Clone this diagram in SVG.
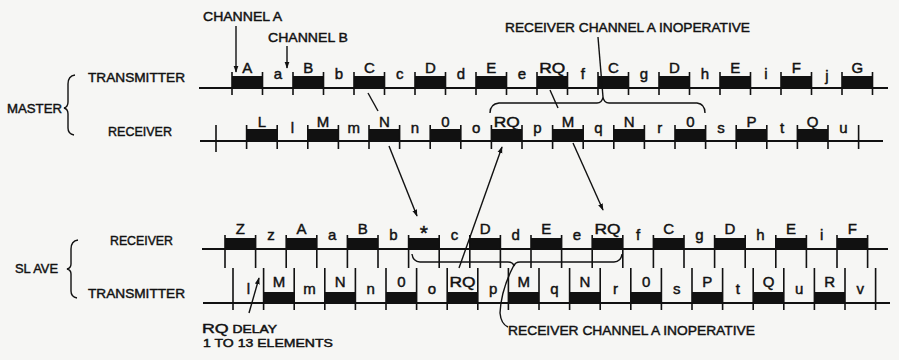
<svg xmlns="http://www.w3.org/2000/svg" width="899" height="360" viewBox="0 0 899 360">
<style>
text{font-family:"Liberation Sans",Arial,sans-serif;fill:#111;stroke:#111;stroke-width:0.45}
.lbl{font-size:13.5px}
.cap{font-size:15px;text-anchor:middle}
.low{font-size:15px;text-anchor:middle}
.base{stroke:#111;stroke-width:2;fill:none}
.tick{stroke:#111;stroke-width:1.6;fill:none}
.blk{fill:#111}
.ln{stroke:#111;stroke-width:1.4;fill:none}
</style>
<defs>
<marker id="ah" viewBox="0 0 10 10" refX="9" refY="5" markerWidth="7" markerHeight="7" orient="auto" markerUnits="userSpaceOnUse">
<path d="M0 1.5L10 5L0 8.5Z" fill="#111"/>
</marker>
</defs>
<rect width="899" height="360" fill="#f6f6f4"/>

<g id="labels">
<text class="lbl" x="7" y="113" textLength="55" lengthAdjust="spacingAndGlyphs">MASTER</text>
<text class="lbl" x="88" y="82" textLength="97" lengthAdjust="spacingAndGlyphs">TRANSMITTER</text>
<text class="lbl" x="108" y="136" textLength="64" lengthAdjust="spacingAndGlyphs">RECEIVER</text>
<text class="lbl" x="15" y="273" textLength="43" lengthAdjust="spacingAndGlyphs">SL AVE</text>
<text class="lbl" x="110" y="245" textLength="63" lengthAdjust="spacingAndGlyphs">RECEIVER</text>
<text class="lbl" x="88" y="298" textLength="97" lengthAdjust="spacingAndGlyphs">TRANSMITTER</text>
<path class="ln" d="M75 75Q68 76 68 84V102Q68 107 64 108Q68 109 68 114V128Q68 134 74 135"/>
<path class="ln" d="M78 240Q71 241 71 249V264Q71 268 67 269Q71 270 71 274V291Q71 297 77 298"/>
<text class="lbl" x="203" y="21" textLength="79" lengthAdjust="spacingAndGlyphs">CHANNEL A</text>
<text class="lbl" x="268" y="42" textLength="80" lengthAdjust="spacingAndGlyphs">CHANNEL B</text>
<text class="lbl" x="505" y="32" textLength="245" lengthAdjust="spacingAndGlyphs">RECEIVER CHANNEL A INOPERATIVE</text>
<text class="lbl" x="508" y="335" textLength="247" lengthAdjust="spacingAndGlyphs">RECEIVER CHANNEL A INOPERATIVE</text>
<text x="202" y="333" textLength="75" lengthAdjust="spacingAndGlyphs"><tspan font-size="13.5">RQ</tspan><tspan font-size="10.5"> DELAY</tspan></text>
<text x="203" y="347" font-size="11.5" textLength="130" lengthAdjust="spacingAndGlyphs">1 TO 13 ELEMENTS</text>
</g>

<g id="master-transmitter">
<path class="base" d="M199 88H888"/>
<g class="blk">
<rect x="232" y="76" width="30.5" height="12"/><rect x="293" y="76" width="30.5" height="12"/><rect x="354" y="76" width="30.5" height="12"/><rect x="415" y="76" width="30.5" height="12"/><rect x="476" y="76" width="30.5" height="12"/><rect x="537" y="76" width="30.5" height="12"/><rect x="598" y="76" width="30.5" height="12"/><rect x="659" y="76" width="30.5" height="12"/><rect x="720" y="76" width="30.5" height="12"/><rect x="781" y="76" width="30.5" height="12"/><rect x="842" y="76" width="30.5" height="12"/>
</g>
<path class="tick" d="M232 72V95M262.5 72V95M293 72V95M323.5 72V95M354 72V95M384.5 72V95M415 72V95M445.5 72V95M476 72V95M506.5 72V95M537 72V95M567.5 72V95M598 72V95M628.5 72V95M659 72V95M689.5 72V95M720 72V95M750.5 72V95M781 72V95M811.5 72V95M842 72V95M872.5 72V95"/>
<g class="cap">
<text x="247.3" y="73">A</text><text x="308.3" y="73">B</text><text x="369.3" y="73">C</text><text x="430.3" y="73">D</text><text x="491.3" y="73">E</text><text x="552.3" y="73" textLength="26" lengthAdjust="spacingAndGlyphs">RQ</text><text x="613.3" y="73">C</text><text x="674.3" y="73">D</text><text x="735.3" y="73">E</text><text x="796.3" y="73">F</text><text x="857.3" y="73">G</text>
</g>
<g class="low">
<text x="277.8" y="79">a</text><text x="338.8" y="79">b</text><text x="399.8" y="79">c</text><text x="460.8" y="79">d</text><text x="521.8" y="79">e</text><text x="582.8" y="79">f</text><text x="643.8" y="79">g</text><text x="704.8" y="79">h</text><text x="765.8" y="79">i</text><text x="826.8" y="81">j</text>
</g>
</g>

<g id="master-receiver">
<path class="base" d="M200 141H883"/>
<g class="blk">
<rect x="246.6" y="129" width="30.6" height="12"/><rect x="307.8" y="129" width="30.6" height="12"/><rect x="369" y="129" width="30.6" height="12"/><rect x="430.2" y="129" width="30.6" height="12"/><rect x="491.4" y="129" width="30.6" height="12"/><rect x="552.6" y="129" width="30.6" height="12"/><rect x="613.8" y="129" width="30.6" height="12"/><rect x="675" y="129" width="30.6" height="12"/><rect x="736.2" y="129" width="30.6" height="12"/><rect x="797.4" y="129" width="30.6" height="12"/>
</g>
<path class="tick" d="M216 125V152M246.6 125V149M277.2 125V149M307.8 125V149M338.4 125V149M369 125V149M399.6 125V149M430.2 125V149M460.8 125V149M491.4 125V149M522 125V149M552.6 125V149M583.2 125V149M613.8 125V149M644.4 125V149M675 125V149M705.6 125V149M736.2 125V149M766.8 125V149M797.4 125V149M828 125V149M858.6 125V149"/>
<g class="cap">
<text x="261.9" y="127">L</text><text x="323.1" y="127">M</text><text x="384.3" y="127">N</text><text x="445.5" y="127">0</text><text x="506.7" y="127" textLength="26" lengthAdjust="spacingAndGlyphs">RQ</text><text x="567.9" y="127">M</text><text x="629.1" y="127">N</text><text x="690.3" y="127">0</text><text x="751.5" y="127">P</text><text x="812.7" y="127">Q</text>
</g>
<g class="low">
<text x="292.5" y="133">l</text><text x="353.7" y="133">m</text><text x="414.9" y="133">n</text><text x="476.1" y="133">o</text><text x="537.3" y="133">p</text><text x="598.5" y="133">q</text><text x="659.7" y="133">r</text><text x="720.9" y="133">s</text><text x="782.1" y="133">t</text><text x="843.3" y="133">u</text>
</g>
</g>

<g id="slave-receiver">
<path class="base" d="M202 249H888"/>
<g class="blk">
<rect x="225" y="238" width="30.6" height="11"/><rect x="286.2" y="238" width="30.6" height="11"/><rect x="347.4" y="238" width="30.6" height="11"/><rect x="408.6" y="238" width="30.6" height="11"/><rect x="469.8" y="238" width="30.6" height="11"/><rect x="531" y="238" width="30.6" height="11"/><rect x="592.2" y="238" width="30.6" height="11"/><rect x="653.4" y="238" width="30.6" height="11"/><rect x="714.6" y="238" width="30.6" height="11"/><rect x="775.8" y="238" width="30.6" height="11"/><rect x="837" y="238" width="30.6" height="11"/>
</g>
<path class="tick" d="M225 235V268M255.6 235V268M286.2 235V268M316.8 235V268M347.4 235V268M378 235V268M408.6 235V268M439.2 235V268M469.8 235V268M500.4 235V268M531 235V268M561.6 235V268M592.2 235V268M622.8 235V268M653.4 235V268M684 235V268M714.6 235V268M745.2 235V268M775.8 235V268M806.4 235V268M837 235V268M867.6 235V268"/>
<g class="cap">
<text x="240.3" y="234">Z</text><text x="301.5" y="234">A</text><text x="362.7" y="234">B</text><text x="423.9" y="240" font-size="21">*</text><text x="485.1" y="234">D</text><text x="546.3" y="234">E</text><text x="607.5" y="234" textLength="26" lengthAdjust="spacingAndGlyphs">RQ</text><text x="668.7" y="234">C</text><text x="729.9" y="234">D</text><text x="791.1" y="234">E</text><text x="852.3" y="234">F</text>
</g>
<g class="low">
<text x="270.9" y="240">z</text><text x="332.1" y="240">a</text><text x="393.3" y="240">b</text><text x="454.5" y="240">c</text><text x="515.7" y="240">d</text><text x="576.9" y="240">e</text><text x="638.1" y="240">f</text><text x="699.3" y="240">g</text><text x="760.5" y="240">h</text><text x="821.7" y="240">i</text>
</g>
</g>

<g id="slave-transmitter">
<path class="base" d="M203 303H890"/>
<g class="blk">
<rect x="263.6" y="292" width="30.6" height="11"/><rect x="324.8" y="292" width="30.6" height="11"/><rect x="386" y="292" width="30.6" height="11"/><rect x="447.2" y="292" width="30.6" height="11"/><rect x="508.4" y="292" width="30.6" height="11"/><rect x="569.6" y="292" width="30.6" height="11"/><rect x="630.8" y="292" width="30.6" height="11"/><rect x="692" y="292" width="30.6" height="11"/><rect x="753.2" y="292" width="30.6" height="11"/><rect x="814.4" y="292" width="30.6" height="11"/>
</g>
<path class="tick" d="M233 268V310M263.6 268V310M294.2 268V310M324.8 268V310M355.4 268V310M386 268V310M416.6 268V310M447.2 268V310M477.8 268V310M508.4 268V310M539 268V310M569.6 268V310M600.2 268V310M630.8 268V310M661.4 268V310M692 268V310M722.6 268V310M753.2 268V310M783.8 268V310M814.4 268V310M845 268V310M875.6 268V310"/>
<g class="cap">
<text x="278.9" y="287">M</text><text x="340.1" y="287">N</text><text x="401.3" y="287">0</text><text x="462.5" y="287" textLength="26" lengthAdjust="spacingAndGlyphs">RQ</text><text x="523.7" y="287">M</text><text x="584.9" y="287">N</text><text x="646.1" y="287">0</text><text x="707.3" y="287">P</text><text x="768.5" y="287">Q</text><text x="829.7" y="287">R</text>
</g>
<g class="low">
<text x="248.3" y="294">l</text><text x="309.5" y="294">m</text><text x="370.7" y="294">n</text><text x="431.9" y="294">o</text><text x="493.1" y="294">p</text><text x="554.3" y="294">q</text><text x="615.5" y="294">r</text><text x="676.7" y="294">s</text><text x="737.9" y="294">t</text><text x="799.1" y="294">u</text><text x="860.3" y="294">v</text>
</g>
</g>

<g id="connectors">
<path class="ln" d="M236 26V72" marker-end="url(#ah)"/>
<path class="ln" d="M287 46V68" marker-end="url(#ah)"/>
<path class="ln" d="M598 37L603 97"/>
<path class="ln" d="M490 113Q490 104 499 103H597Q602 103 603 97Q604 103 609 103H697Q705 104 705 113"/>
<path class="ln" d="M368 93L378 111"/>
<path class="ln" d="M389 146L417 216" marker-end="url(#ah)"/>
<path class="ln" d="M550 90L558 108"/>
<path class="ln" d="M573 143L603 210" marker-end="url(#ah)"/>
<path class="ln" d="M459 268L502 147" marker-end="url(#ah)"/>
<path class="ln" d="M412 254Q413 262 420 262H508Q513 262 514 266Q515 262 520 262H614Q621 262 622 254"/>
<path class="ln" d="M514 265Q501 290 500 313Q501 324 508 327"/>
<path class="ln" d="M249 313L259 278" marker-end="url(#ah)"/>
</g>
</svg>
